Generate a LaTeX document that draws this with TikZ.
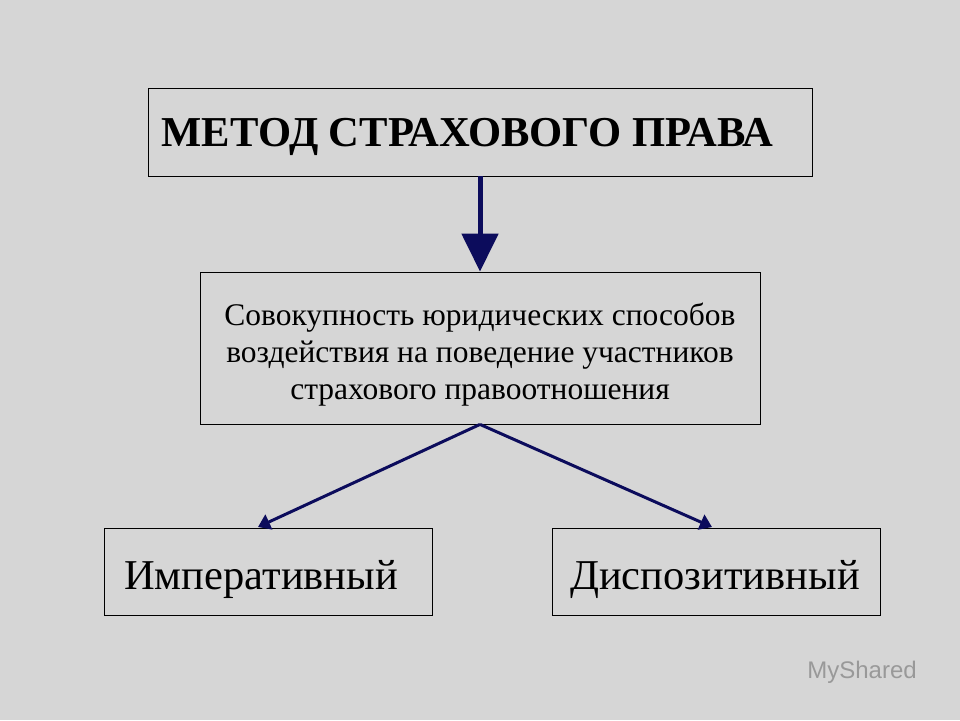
\documentclass[tikz,border=0pt]{standalone}
\usepackage{fontspec}
\setmainfont{Liberation Serif}
\newfontfamily\wm{Liberation Sans}
\usetikzlibrary{arrows.meta}
\definecolor{bg}{HTML}{D6D6D6}
\definecolor{navy}{HTML}{0C0C5C}
\begin{document}
\begin{tikzpicture}[x=1pt,y=-1pt,
  box/.style={draw=black,line width=0.8pt,fill=bg,inner sep=0pt},
  conn/.style={navy,line width=3pt,-{Triangle[length=12pt,width=16pt]}}]
\fill[bg] (0,0) rectangle (960,720);
\useasboundingbox (0,0) rectangle (960,720);
\node[box,minimum width=664pt,minimum height=88pt] (top) at (480,132) {};
\node[anchor=west,font=\fontsize{42.6}{46}\selectfont\bfseries] (tt) at (158,137) {МЕТОД СТРАХОВОГО ПРАВА};
\node[box,minimum width=560pt,minimum height=152pt] (mid) at (480,348) {};
\node[align=center,font=\fontsize{31.5}{37}\selectfont] (mt) at (480,355) {Совокупность юридических способов\\воздействия на поведение участников\\страхового правоотношения};
\node[box,minimum width=328pt,minimum height=87pt] (l) at (268,571.5) {};
\node[font=\fontsize{42.5}{46}\selectfont] (lt) at (261,579) {Императивный};
\node[box,minimum width=328pt,minimum height=87pt] (r) at (716,571.5) {};
\node[font=\fontsize{42.5}{46}\selectfont] (rt) at (715,579) {Диспозитивный};
\draw[navy,line width=5pt,-{Triangle[length=38pt,width=36pt]}] (top.south) -- (mid.north);
\draw[conn] (mid.south) -- (258,527);
\draw[conn] (mid.south) -- (712,527);
\node[text=gray!80!white,font=\wm\fontsize{24}{26}\selectfont] (wm) at (862,672) {MyShared};
\end{tikzpicture}
\end{document}
